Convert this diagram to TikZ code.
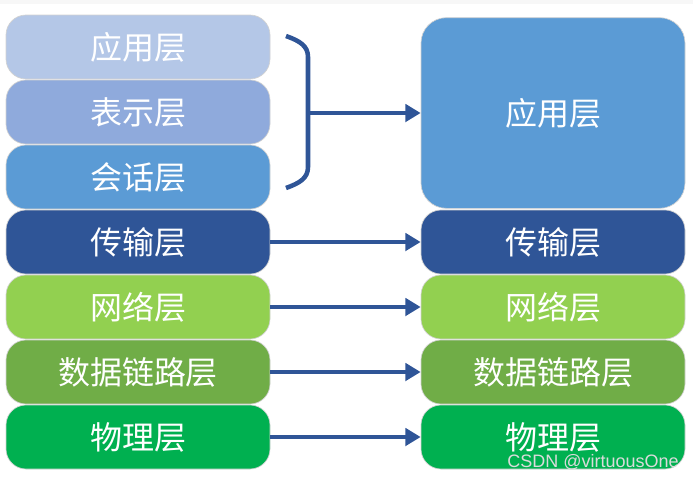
\documentclass[tikz,border=0pt]{standalone}
\usepackage{fontspec}
\setmainfont{Liberation Sans}
\newfontfamily\cjk{Noto Sans CJK SC}
\usetikzlibrary{arrows.meta}

\definecolor{appLight}{HTML}{B4C7E7}
\definecolor{presBlue}{HTML}{8FAADC}
\definecolor{sessBlue}{HTML}{5B9BD5}
\definecolor{transBlue}{HTML}{2F5597}
\definecolor{netGreen}{HTML}{92D050}
\definecolor{linkGreen}{HTML}{70AD47}
\definecolor{physGreen}{HTML}{00B050}

\tikzset{
	layerBox/.style={rectangle, rounded corners=15pt, draw=gray!35, line width=0.5pt, minimum width=198pt, minimum height=48pt, inner sep=0pt, text=white, font=\cjk\fontsize{24}{24}\selectfont},
	mapArrow/.style={draw=transBlue, line width=3.4pt, -{Triangle[length=11.5pt,width=13pt]}},
}

\begin{document}
\begin{tikzpicture}[x=0.75pt, y=-0.75pt]
	\useasboundingbox (0,0) rectangle (693,479);
	\fill[gray!6] (0,0) rectangle (693,4);

	% left stack, seven layers
	\node[layerBox, fill=appLight](l1)  at (138,47){应用层};
	\node[layerBox, fill=presBlue](l2)  at (138,112){表示层};
	\node[layerBox, fill=sessBlue](l3)  at (138,177){会话层};
	\node[layerBox, fill=transBlue](l4) at (138,242){传输层};
	\node[layerBox, fill=netGreen](l5)  at (138,307){网络层};
	\node[layerBox, fill=linkGreen](l6) at (138,372){数据链路层};
	\node[layerBox, fill=physGreen](l7) at (138,437){物理层};

	% right stack, five layers
	\node[layerBox, fill=sessBlue, rounded corners=19pt, minimum height=143pt](r1) at (553,113){应用层};
	\node[layerBox, fill=transBlue](r4) at (553,242){传输层};
	\node[layerBox, fill=netGreen](r5)  at (553,307){网络层};
	\node[layerBox, fill=linkGreen](r6) at (553,372){数据链路层};
	\node[layerBox, fill=physGreen](r7) at (553,437){物理层};

	% bracket over the upper three
	\coordinate (braceTop) at (286,36);
	\coordinate (braceBot) at (286,188);
	\coordinate (braceMid) at (308,113);
	\draw[draw=transBlue, line width=3.4pt] (braceTop) .. controls (300,41) and (308,46) .. (308,57) -- (308,167) .. controls (308,178) and (300,183) .. (braceBot);
	\draw[mapArrow] (braceMid) -- (r1.west |- braceMid);

	\draw[mapArrow] (l4.east) -- (r4.west);
	\draw[mapArrow] (l5.east) -- (r5.west);
	\draw[mapArrow] (l6.east) -- (r6.west);
	\draw[mapArrow] (l7.east) -- (r7.west);

	\node[anchor=east, text=white!72!gray, font=\fontsize{13.5}{13.5}\selectfont, inner sep=0pt](mark) at (679,462){CSDN @virtuousOne};
\end{tikzpicture}
\end{document}
